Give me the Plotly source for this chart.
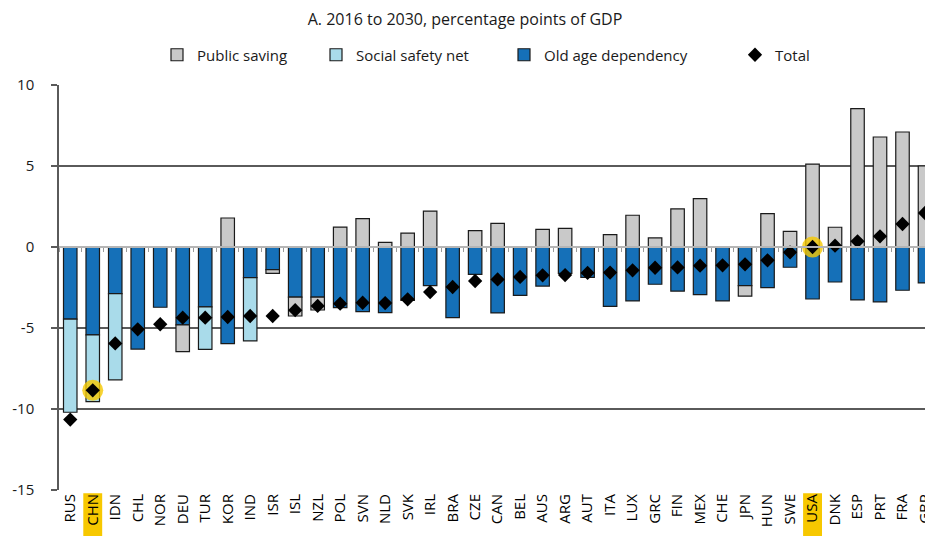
import plotly.graph_objects as go

countries = ["RUS","CHN","IDN","CHL","NOR","DEU","TUR","KOR","IND","ISR","ISL","NZL","POL",
             "SVN","NLD","SVK","IRL","BRA","CZE","CAN","BEL","AUS","ARG","AUT","ITA","LUX",
             "GRC","FIN","MEX","CHE","JPN","HUN","SWE","USA","DNK","ESP","PRT","FRA","GBR"]

public_saving = [0, 0, 0, 0, 0, -1.65, 0, 1.79, 0, -0.23, -1.17, -0.8, 1.23,
                 1.75, 0.29, 0.86, 2.22, 0, 1.01, 1.46, 0, 1.09, 1.15, 0, 0.76, 1.96,
                 0.56, 2.35, 2.98, 0, -0.64, 2.06, 0.97, 5.12, 1.22, 8.54, 6.79, 7.1, 5.0]

social_safety_net = [-5.75, -4.12, -5.32, 0, 0, 0, -2.62, 0, -3.91, 0, 0, 0, 0,
                     0, 0, 0, 0, 0, 0, 0, 0, 0, 0, 0, 0, 0,
                     0, 0, 0, 0, 0, 0, 0, 0, 0, 0, 0, 0, 0]

old_age_dependency = [-4.45, -5.43, -2.88, -6.3, -3.72, -4.81, -3.7, -5.97, -1.89, -1.4, -3.09, -3.09, -3.74,
                      -3.99, -4.05, -3.29, -2.39, -4.36, -1.69, -4.07, -2.98, -2.41, -1.63, -1.87, -3.66, -3.33,
                      -2.3, -2.72, -2.94, -3.33, -2.39, -2.51, -1.25, -3.21, -2.16, -3.27, -3.39, -2.67, -2.22]

total = [-10.65, -8.85, -5.95, -5.08, -4.77, -4.36, -4.36, -4.32, -4.26, -4.26, -3.9, -3.64, -3.5,
         -3.44, -3.46, -3.23, -2.78, -2.47, -2.1, -2.0, -1.85, -1.75, -1.73, -1.6, -1.58, -1.44,
         -1.28, -1.26, -1.15, -1.13, -1.07, -0.82, -0.33, 0.0, 0.08, 0.35, 0.66, 1.42, 2.1]

highlighted = ["CHN", "USA"]

y_tick_values = [-15, -10, -5, 0, 5, 10]
y_tick_labels = ["-15", "-10", "-5", "0", "5", "10"]

title_text = "A. 2016 to 2030, percentage points of GDP"

FONT = "Open Sans"
DARK_BLUE = "#1570b8"
LIGHT_BLUE = "#a9dbea"
GREY = "#c9c9c9"
OUTLINE = "#1a1a1a"
TEXT = "#1a1a1a"
W, H = 925, 536

fig = go.Figure()

fig.add_trace(go.Bar(name="Old age dependency", x=countries, y=old_age_dependency,
                     marker=dict(color=DARK_BLUE, line=dict(color=OUTLINE, width=1.2)),
                     legend="legend3"))
fig.add_trace(go.Bar(name="Social safety net", x=countries, y=social_safety_net,
                     marker=dict(color=LIGHT_BLUE, line=dict(color=OUTLINE, width=1.2)),
                     legend="legend2"))
fig.add_trace(go.Bar(name="Public saving", x=countries, y=public_saving,
                     marker=dict(color=GREY, line=dict(color=OUTLINE, width=1.2)),
                     legend="legend"))

hl_y = [total[countries.index(c)] for c in highlighted]
fig.add_trace(go.Scatter(x=highlighted, y=hl_y, mode="markers", xaxis="x2",
                         marker=dict(symbol="circle", size=21, color="rgba(245,200,0,0.8)"),
                         showlegend=False, hoverinfo="skip"))

fig.add_trace(go.Scatter(name="Total", x=countries, y=total, mode="markers", xaxis="x2",
                         marker=dict(symbol="diamond", size=11, color="black"),
                         legend="legend4"))

for c in highlighted:
    i = countries.index(c)
    fig.add_shape(type="rect", xref="x", yref="paper",
                  x0=i - 0.42, x1=i + 0.42, y0=-0.12, y1=-0.008,
                  fillcolor="#f7c800", line=dict(width=0), layer="below")


def legend_at(px_left):
    return dict(orientation="h", x=px_left / W, xref="container", xanchor="left",
                y=1 - 55 / H, yref="container", yanchor="middle",
                font=dict(family=FONT, size=15, color=TEXT), bgcolor="rgba(0,0,0,0)")


fig.update_layout(
    width=W, height=H,
    margin=dict(l=59, r=0, t=85, b=46, autoexpand=False),
    paper_bgcolor="white", plot_bgcolor="white",
    barmode="relative", bargap=0.4,
    font=dict(family=FONT, size=14, color=TEXT),
    title=dict(text=title_text, x=465 / W, xref="container", xanchor="center",
               y=1 - 19 / H, yref="container", yanchor="middle",
               font=dict(family=FONT, size=16, color=TEXT)),
    legend=legend_at(157),
    legend2=legend_at(316),
    legend3=legend_at(504),
    legend4=legend_at(735),
    xaxis=dict(type="category", range=[-0.5, 38.0], showgrid=False, showline=False,
               ticks="", tickangle=-90, tickfont=dict(family=FONT, size=15, color="black"),
               automargin=False, fixedrange=True),
    xaxis2=dict(type="category", overlaying="x", matches="x", anchor="free", position=0.6,
                side="bottom", showline=True, linecolor="#b5b5b5", linewidth=1.5,
                ticks="outside", ticklen=4, tickwidth=1, tickcolor="#9a9a9a",
                tickson="boundaries", showticklabels=False, showgrid=False, automargin=False),
    yaxis=dict(range=[-15, 10], tickvals=y_tick_values, ticktext=y_tick_labels,
               showgrid=True, gridcolor="#5a5a5a", gridwidth=1.5, zeroline=False,
               showline=True, linecolor="#5a5a5a", linewidth=1.5,
               ticks="outside", ticklen=6, tickcolor="#5a5a5a", tickwidth=1.5,
               ticklabelstandoff=14, automargin=False,
               tickfont=dict(family=FONT, size=15, color=TEXT), fixedrange=True),
)

fig.write_html("out.html", config={"displayModeBar": False},
               post_script="document.body.style.margin='0';document.body.style.overflow='hidden';")
